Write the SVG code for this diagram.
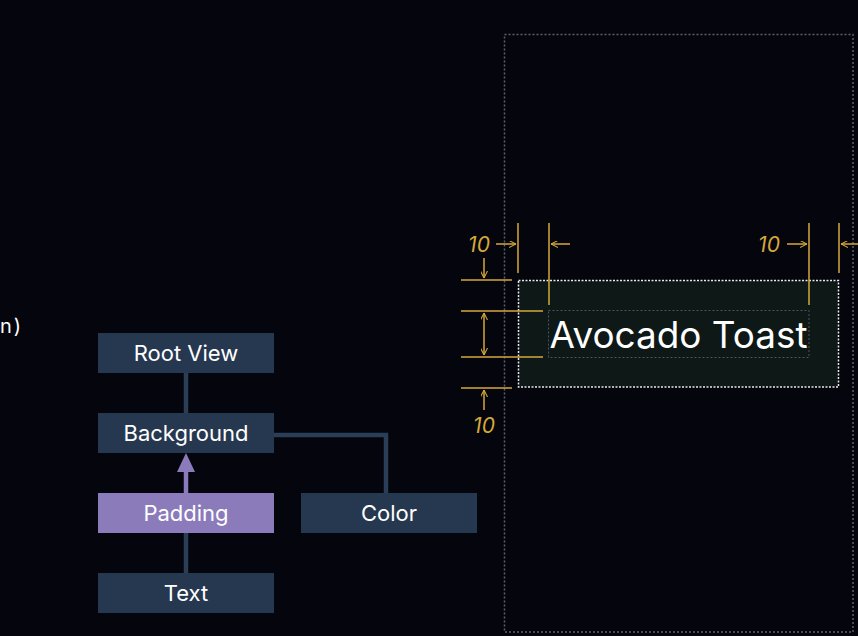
<svg xmlns="http://www.w3.org/2000/svg" width="858" height="636" viewBox="0 0 858 636">
<defs>
<style>
.node{fill:#263850}
.lbl{font-family:Inter,"Noto Sans",sans-serif;font-size:22px;fill:#ffffff;text-anchor:middle}
.dim{stroke:#d6a93a;stroke-width:1.5;fill:none}
.num{font-family:Inter,"Noto Sans",sans-serif;font-size:21px;font-style:italic;fill:#d6a93a;text-anchor:middle}
.edge{stroke:#2b3e58;stroke-width:4.5;fill:none}
</style>
<marker id="ah" viewBox="0 0 10 10" refX="10" refY="5" markerWidth="7" markerHeight="7" orient="auto-start-reverse" markerUnits="userSpaceOnUse">
<path d="M0,0 L10,5 L0,10" fill="none" stroke="#d6a93a" stroke-width="1.5"/>
</marker>
</defs>
<rect width="858" height="636" fill="#05050d"/>
<text x="0" y="333" font-family="Inter,'Noto Sans',sans-serif" font-size="20" fill="#ffffff" letter-spacing="2">n)</text>

<rect x="504.5" y="34.5" width="348.5" height="597.5" fill="none" stroke="#5c6170" stroke-width="1.5" stroke-dasharray="2,2"/>

<g id="connectors">
<line class="edge" x1="186" y1="373" x2="186" y2="413"/>
<line class="edge" x1="186" y1="533" x2="186" y2="573"/>
<polyline class="edge" points="274,435 386,435 386,493"/>
<line x1="186" y1="470" x2="186" y2="493" stroke="#8b7bbb" stroke-width="4.5"/>
<polygon points="186,453 177,472 195,472" fill="#8b7bbb"/>
</g>

<g id="root-view"><rect class="node" x="98" y="333" width="176" height="40"/><text class="lbl" x="186" y="361">Root View</text></g>
<g id="background"><rect class="node" x="98" y="413" width="176" height="40"/><text class="lbl" x="186" y="441">Background</text></g>
<g id="padding"><rect x="98" y="493" width="176" height="40" fill="#8b7bbb"/><text class="lbl" x="186" y="521">Padding</text></g>
<g id="text"><rect class="node" x="98" y="573" width="176" height="40"/><text class="lbl" x="186" y="601">Text</text></g>
<g id="color"><rect class="node" x="301" y="493" width="176" height="40"/><text class="lbl" x="389" y="521">Color</text></g>

<g id="preview">
<rect x="518.5" y="280.5" width="320" height="106.5" fill="#0e1817" stroke="#e8e8ec" stroke-width="1.5" stroke-dasharray="2,1.5"/>
<rect x="548.5" y="310.5" width="260.5" height="47" fill="none" stroke="#4a5560" stroke-width="1" stroke-dasharray="2,2"/>
<text x="678.5" y="348" font-family="Inter,'Noto Sans',sans-serif" font-size="37" fill="#ffffff" text-anchor="middle" textLength="258" lengthAdjust="spacingAndGlyphs">Avocado Toast</text>
</g>

<g id="dimensions">
<line class="dim" x1="518" y1="223" x2="518" y2="273"/>
<line class="dim" x1="549" y1="223" x2="549" y2="305"/>
<line class="dim" x1="809" y1="223" x2="809" y2="305"/>
<line class="dim" x1="839" y1="223" x2="839" y2="273"/>
<line class="dim" x1="496" y1="244" x2="516" y2="244" marker-end="url(#ah)"/>
<line class="dim" x1="570" y1="244" x2="551" y2="244" marker-end="url(#ah)"/>
<line class="dim" x1="787" y1="244" x2="807" y2="244" marker-end="url(#ah)"/>
<line class="dim" x1="858" y1="244" x2="841" y2="244" marker-end="url(#ah)"/>
<text class="num" x="479" y="252">10</text>
<text class="num" x="769" y="252">10</text>

<line class="dim" x1="461" y1="280" x2="512" y2="280"/>
<line class="dim" x1="461" y1="311" x2="543" y2="311"/>
<line class="dim" x1="461" y1="357" x2="543" y2="357"/>
<line class="dim" x1="461" y1="388" x2="512" y2="388"/>
<line class="dim" x1="484" y1="258" x2="484" y2="278" marker-end="url(#ah)"/>
<line class="dim" x1="484" y1="313" x2="484" y2="355" marker-start="url(#ah)" marker-end="url(#ah)"/>
<line class="dim" x1="484" y1="410" x2="484" y2="390" marker-end="url(#ah)"/>
<text class="num" x="484" y="433">10</text>
</g>
</svg>
